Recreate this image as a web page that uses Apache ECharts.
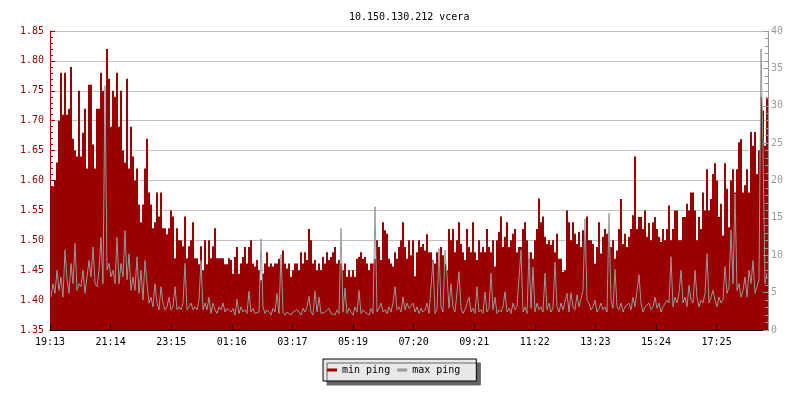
<!DOCTYPE html>
<html>
<head>
<meta charset="utf-8">
<style>html,body{margin:0;padding:0;background:#fff}#chart{width:800px;height:400px}</style>
<script src="https://cdn.jsdelivr.net/npm/echarts@6/dist/echarts.min.js"></script>
</head>
<body>
<div id="chart"></div>
<script>
var timeLabels = ['19:13','21:14','23:15','01:16','03:17','05:19','07:20','09:21','11:22','13:23','15:24','17:25'];
var labelStep = 30.3; // samples between time labels

var minPing = [
1.59,1.59,1.60,1.63,1.70,1.78,1.71,1.78,1.71,1.72,
1.79,1.67,1.65,1.64,1.75,1.64,1.68,1.72,1.62,1.76,
1.76,1.66,1.62,1.72,1.72,1.78,1.75,1.68,1.82,1.77,
1.69,1.75,1.74,1.78,1.69,1.75,1.65,1.63,1.77,1.62,
1.69,1.64,1.60,1.62,1.56,1.53,1.56,1.62,1.67,1.58,
1.56,1.52,1.53,1.58,1.54,1.58,1.52,1.52,1.51,1.52,
1.55,1.54,1.47,1.52,1.50,1.50,1.49,1.54,1.47,1.49,
1.50,1.53,1.47,1.47,1.46,1.49,1.45,1.50,1.46,1.50,
1.47,1.49,1.52,1.47,1.47,1.47,1.47,1.46,1.46,1.47,
1.467,1.444,1.472,1.489,1.444,1.461,1.472,1.489,1.461,1.489,
1.50,1.461,1.456,1.467,1.45,1.433,1.444,1.461,1.48,1.456,
1.461,1.456,1.461,1.461,1.469,1.453,1.483,1.461,1.453,1.461,
1.439,1.45,1.461,1.461,1.45,1.48,1.461,1.48,1.467,1.519,
1.50,1.461,1.467,1.45,1.461,1.45,1.472,1.461,1.48,1.467,
1.472,1.48,1.489,1.461,1.467,1.461,1.45,1.461,1.439,1.45,
1.439,1.45,1.439,1.469,1.472,1.48,1.469,1.472,1.461,1.45,
1.461,1.461,1.469,1.50,1.489,1.467,1.53,1.517,1.511,1.469,
1.461,1.456,1.48,1.469,1.489,1.50,1.53,1.489,1.469,1.50,
1.475,1.50,1.44,1.48,1.50,1.489,1.494,1.483,1.51,1.48,
1.48,1.467,1.461,1.48,1.461,1.489,1.475,1.461,1.45,1.519,
1.50,1.519,1.48,1.50,1.53,1.494,1.48,1.467,1.519,1.489,
1.48,1.53,1.48,1.467,1.50,1.48,1.489,1.48,1.519,1.489,
1.48,1.50,1.456,1.50,1.514,1.54,1.489,1.506,1.53,1.489,
1.50,1.511,1.519,1.48,1.489,1.489,1.519,1.53,1.50,1.469,
1.48,1.469,1.50,1.519,1.57,1.53,1.54,1.506,1.494,1.50,
1.492,1.50,1.48,1.511,1.469,1.469,1.447,1.45,1.55,1.53,
1.50,1.53,1.511,1.494,1.514,1.489,1.517,1.506,1.54,1.50,
1.50,1.494,1.461,1.489,1.53,1.478,1.506,1.519,1.511,1.50,
1.489,1.50,1.469,1.483,1.519,1.569,1.494,1.511,1.489,1.506,
1.519,1.542,1.64,1.519,1.539,1.539,1.519,1.55,1.506,1.529,
1.50,1.53,1.539,1.519,1.506,1.497,1.519,1.50,1.519,1.558,
1.50,1.519,1.55,1.55,1.50,1.50,1.539,1.539,1.561,1.55,
1.58,1.58,1.55,1.50,1.539,1.519,1.58,1.55,1.619,1.55,
1.569,1.611,1.629,1.60,1.539,1.561,1.508,1.629,1.586,1.522,
1.60,1.619,1.58,1.619,1.664,1.669,1.58,1.592,1.619,1.58,
1.681,1.658,1.681,1.611,1.65,1.74,1.717,1.658,1.739
];

var maxPing = [
4.4,6.2,4.9,8.0,5.3,7.1,4.4,10.7,6.7,4.9,
8.9,6.2,11.6,5.3,6.2,5.8,8.0,4.9,7.1,9.3,
7.1,11.1,6.2,5.8,8.0,12.4,6.2,32.7,8.0,8.9,
7.1,8.0,6.2,12.4,6.2,8.9,7.1,13.3,6.7,10.2,
5.3,7.1,5.3,9.8,4.9,8.0,4.0,9.3,6.2,3.6,
4.4,3.1,6.2,3.6,2.7,5.8,3.6,2.7,3.1,4.4,
2.7,3.1,5.8,2.7,3.1,2.7,3.6,8.9,2.7,3.1,
3.6,2.7,3.1,2.7,4.0,9.3,2.7,3.6,2.7,4.4,
2.2,3.6,2.7,2.2,3.1,2.7,3.6,2.4,2.9,2.7,
2.4,2.9,2.0,4.1,2.2,3.1,2.4,2.7,2.2,5.2,
2.4,2.9,2.2,2.0,2.4,12.2,3.1,2.2,2.7,2.4,
2.0,2.9,2.4,4.9,2.2,10.1,2.4,2.0,2.4,2.2,
2.0,2.4,2.2,2.7,2.4,2.0,2.9,2.4,3.1,4.5,
2.4,2.0,5.2,2.4,4.4,2.2,2.0,2.4,2.2,2.9,
2.2,2.4,2.0,2.7,2.2,13.6,2.4,5.6,2.2,2.9,
2.4,2.0,3.1,2.4,5.3,2.2,2.7,2.4,2.2,2.0,
2.9,2.2,16.5,2.4,2.9,3.6,2.4,2.7,2.2,3.1,
2.4,3.6,5.8,2.7,3.1,2.4,4.4,2.7,3.6,2.9,
2.7,3.6,2.4,3.1,2.2,2.9,2.4,2.7,3.6,2.2,
2.4,9.3,2.2,2.7,10.9,3.1,2.4,10.7,7.3,2.9,
6.2,3.1,2.4,2.2,7.8,2.9,2.2,2.7,3.6,4.4,
2.4,2.9,2.2,5.8,2.4,2.7,2.2,5.1,2.4,2.9,
7.6,2.7,4.4,2.2,2.7,2.4,3.1,5.1,2.4,2.9,
2.2,3.6,2.7,3.1,2.9,10.7,2.4,3.1,2.2,10.4,
2.9,8.4,2.4,3.6,2.7,3.1,2.4,7.6,2.7,3.6,
2.4,2.9,9.1,3.1,2.4,3.6,2.7,2.9,4.9,2.4,
5.0,3.1,2.7,4.7,3.1,2.9,5.3,14.9,4.0,3.6,
2.7,3.1,4.0,2.4,2.9,3.6,2.7,3.1,2.4,15.6,
4.0,2.9,8.1,3.1,2.7,3.6,2.4,3.1,2.9,3.6,
2.7,4.4,3.1,2.9,7.4,3.6,2.4,3.1,2.9,3.6,
2.7,3.1,4.4,2.9,3.6,2.4,3.1,2.9,4.0,3.6,
9.8,3.1,4.4,3.6,4.9,8.0,3.6,4.4,3.1,6.0,
4.0,3.6,8.0,4.4,3.1,4.0,3.6,4.9,10.2,3.6,
4.4,5.3,4.0,3.1,4.4,3.6,4.0,8.5,4.9,5.8,
13.4,6.2,18.2,5.3,6.2,4.4,5.3,7.1,4.4,8.0,
6.2,9.3,4.9,5.1,6.7,37.6,24.2,6.2,7.6
];

var N = minPing.length;
var minData = minPing.map(function (v, i) { return [i + 0.5, v]; });
var maxData = maxPing.map(function (v, i) { return [i + 0.5, v]; });

var MONO = '"DejaVu Sans Mono", "Liberation Mono", monospace';
var RED = '#990000';
var GRAY = '#999999';

var chart = echarts.init(document.getElementById('chart'), null, { renderer: 'canvas' });
chart.setOption({
  animation: false,
  backgroundColor: '#ffffff',
  title: {
    text: '10.150.130.212 vcera',
    left: 344, top: 7,
    textStyle: { fontFamily: MONO, fontSize: 10, fontWeight: 'normal', color: '#000' }
  },
  legend: {
    data: ['min ping', 'max ping'],
    left: 323, top: 359,
    icon: 'rect', itemWidth: 10, itemHeight: 3, itemGap: 7,
    padding: [6, 16, 6, 4],
    backgroundColor: '#e8e8e8', borderColor: '#000', borderWidth: 1,
    shadowColor: '#666', shadowOffsetX: 4, shadowOffsetY: 4, shadowBlur: 0,
    textStyle: { fontFamily: MONO, fontSize: 10, color: '#000' }
  },
  grid: { left: 50, right: 32, top: 31, bottom: 70 },
  xAxis: {
    type: 'value', min: 0, max: N, interval: labelStep, z: 10,
    axisLine: { show: true, lineStyle: { color: '#000', width: 1 } },
    axisTick: { show: true, inside: true, length: 5, lineStyle: { color: '#000' } },
    splitLine: { show: false },
    axisLabel: {
      fontFamily: MONO, fontSize: 10, color: '#000', margin: 7,
      showMaxLabel: false,
      formatter: function (v) {
        var k = Math.round(v / labelStep);
        return (k < timeLabels.length && Math.abs(v - k * labelStep) < 0.5) ? timeLabels[k] : '';
      }
    }
  },
  yAxis: [
    {
      type: 'value', min: 1.35, max: 1.85, interval: 0.05, position: 'left',
      axisLine: { show: true, lineStyle: { color: RED, width: 1 } },
      axisTick: { show: true, inside: true, length: 5, lineStyle: { color: RED } },
      minorTick: { show: true, splitNumber: 5, length: 3, lineStyle: { color: RED } },
      splitLine: { show: true, lineStyle: { color: '#c0c0c0', width: 1 } },
      axisLabel: { fontFamily: MONO, fontSize: 10, color: RED, margin: 6,
        formatter: function (v) { return v.toFixed(2); } }
    },
    {
      type: 'value', min: 0, max: 40, interval: 5, position: 'right', z: 10,
      axisLine: { show: true, lineStyle: { color: GRAY, width: 1 } },
      axisTick: { show: true, inside: true, length: 5, lineStyle: { color: GRAY } },
      minorTick: { show: true, splitNumber: 5, length: 3, lineStyle: { color: GRAY } },
      splitLine: { show: false },
      axisLabel: { fontFamily: MONO, fontSize: 10, color: GRAY, margin: 3 }
    }
  ],
  series: [
    {
      name: 'min ping', type: 'bar', yAxisIndex: 0,
      data: minData, barWidth: 2, color: RED, clip: true,
      itemStyle: { color: RED }
    },
    {
      name: 'max ping', type: 'line', yAxisIndex: 1,
      data: maxData, symbol: 'none', color: GRAY,
      lineStyle: { width: 1, color: GRAY }
    }
  ]
});
</script>
</body>
</html>
